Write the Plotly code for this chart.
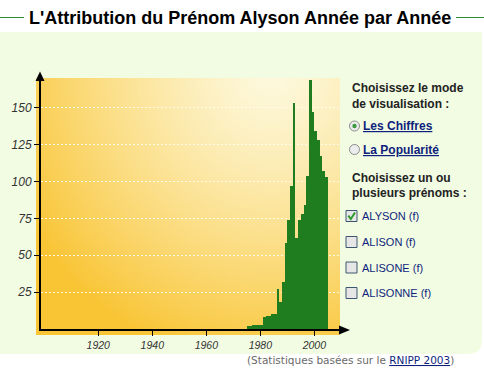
import base64
import struct
import zlib
import numpy as np
import plotly.graph_objects as go

# ---------------- data ----------------
years = list(range(1975, 2005))
counts = [2, 2, 3, 3, 3, 3, 8, 9, 9, 10, 10, 27, 18, 32, 58, 74, 97, 153, 62, 74,
          78, 84, 104, 169, 147, 134, 128, 117, 107, 103]
y_ticks = [25, 50, 75, 100, 125, 150]
x_ticks = [1920, 1940, 1960, 1980, 2000]
title_text = "L'Attribution du Prénom Alyson Année par Année"
mode_header = ["Choisissez le mode", "de visualisation :"]
modes = ["Les Chiffres", "La Popularité"]
names_header = ["Choisissez un ou", "plusieurs prénoms :"]
names = ["ALYSON (f)", "ALISON (f)", "ALISONE (f)", "ALISONNE (f)"]
footnote_pre = "(Statistiques basées sur le "
footnote_link = "RNIPP 2003"

# ---------------- layout geometry (pixels) ----------------
W, H = 484, 377
L, R, T, B = 41, 340, 78, 329


def px(x):
    return (x - L) / (R - L)


def py(y):
    return (B - y) / (B - T)


# ---------------- gold gradient background (png data uri) ----------------
def png_data_uri(arr):
    h, w, _ = arr.shape
    raw = b"".join(b"\x00" + arr[i].astype(np.uint8).tobytes() for i in range(h))

    def chunk(t, d):
        c = struct.pack(">I", len(d)) + t + d
        return c + struct.pack(">I", zlib.crc32(t + d) & 0xFFFFFFFF)

    png = (b"\x89PNG\r\n\x1a\n"
           + chunk(b"IHDR", struct.pack(">IIBBBBB", w, h, 8, 2, 0, 0, 0))
           + chunk(b"IDAT", zlib.compress(raw))
           + chunk(b"IEND", b""))
    return "data:image/png;base64," + base64.b64encode(png).decode()


gw, gh = 120, 100
uu, vv = np.meshgrid(np.linspace(0, 1, gw), np.linspace(0, 1, gh))
dist = np.sqrt(((uu - 0.78) / 0.95) ** 2 + ((vv + 0.05) / 1.2) ** 2)
t = np.clip(dist, 0, 1) ** 1.25
gold = np.array([249, 197, 52], dtype=float)
pale = np.array([254, 250, 224], dtype=float)
img = pale[None, None, :] * (1 - t[..., None]) + gold[None, None, :] * t[..., None]
bg_uri = png_data_uri(np.clip(img, 0, 255))

BAR = "#1F7D1F"
NAVY = "#0E1F7C"
TXT = "#222222"
FONT = "Liberation Sans"

fig = go.Figure()
fig.add_trace(go.Bar(x=years, y=counts, width=1, offset=0,
                     marker=dict(color=BAR, line=dict(width=0)),
                     hoverinfo="x+y"))

shapes = []
# white areas outside the pale-green panel
Bp, Rp, rad = 354, 482, 14
shapes.append(dict(type="rect", xref="paper", yref="paper", x0=px(0), x1=px(W), y0=py(0), y1=py(32),
                   fillcolor="white", line=dict(width=0), layer="below"))
shapes.append(dict(type="rect", xref="paper", yref="paper", x0=px(0), x1=px(W), y0=py(Bp), y1=py(H),
                   fillcolor="white", line=dict(width=0), layer="below"))
shapes.append(dict(type="rect", xref="paper", yref="paper", x0=px(Rp), x1=px(W), y0=py(32), y1=py(Bp),
                   fillcolor="white", line=dict(width=0), layer="below"))
corner = (f"M {px(Rp - rad)},{py(Bp)} Q {px(Rp)},{py(Bp)} {px(Rp)},{py(Bp - rad)} "
          f"L {px(Rp)},{py(Bp)} Z")
shapes.append(dict(type="path", xref="paper", yref="paper", path=corner,
                   fillcolor="white", line=dict(width=0), layer="below"))

# title side lines
for x0, x1 in [(0, 24), (456, W)]:
    shapes.append(dict(type="line", xref="paper", yref="paper", x0=px(x0), x1=px(x1),
                       y0=py(17.5), y1=py(17.5), line=dict(color="#2E8B2E", width=1)))

# axis arrows
shapes.append(dict(type="path", xref="paper", yref="paper",
                   path=f"M {px(35.5)},{py(81)} L {px(40)},{py(71.5)} L {px(44.5)},{py(81)} Z",
                   fillcolor="black", line=dict(width=0)))
shapes.append(dict(type="path", xref="paper", yref="paper",
                   path=f"M {px(339)},{py(325.5)} L {px(350)},{py(330)} L {px(339)},{py(334.5)} Z",
                   fillcolor="black", line=dict(width=0)))

annotations = []
annotations.append(dict(xref="paper", yref="paper", x=px(240), y=py(17.5), text=f"<b>{title_text}</b>",
                        showarrow=False, xanchor="center", yanchor="middle",
                        font=dict(family=FONT, size=18, color="black")))

for txt, yy in zip(mode_header, [88.5, 103.5]):
    annotations.append(dict(xref="paper", yref="paper", x=px(350), y=py(yy), text=f"<b>{txt}</b>",
                            showarrow=False, xanchor="left", yanchor="middle",
                            font=dict(family=FONT, size=12, color=TXT)))
for txt, yy in zip(names_header, [177.5, 192.5]):
    annotations.append(dict(xref="paper", yref="paper", x=px(350), y=py(yy), text=f"<b>{txt}</b>",
                            showarrow=False, xanchor="left", yanchor="middle",
                            font=dict(family=FONT, size=12, color=TXT)))

# radio buttons
for i, (txt, yy) in enumerate(zip(modes, [126, 149.5])):
    shapes.append(dict(type="circle", xref="paper", yref="paper",
                       x0=px(349.5), x1=px(359.5), y0=py(yy - 5), y1=py(yy + 5),
                       fillcolor="#ECECEC", line=dict(color="#8C8C8C", width=1)))
    if i == 0:
        shapes.append(dict(type="circle", xref="paper", yref="paper",
                           x0=px(352.3), x1=px(356.7), y0=py(yy - 2.2), y1=py(yy + 2.2),
                           fillcolor="#3F9A3F", line=dict(width=0)))
    annotations.append(dict(xref="paper", yref="paper", x=px(361), y=py(yy), text=f"<b><u>{txt}</u></b>",
                            showarrow=False, xanchor="left", yanchor="middle",
                            font=dict(family=FONT, size=12, color=NAVY)))

# check boxes
for i, (txt, yy) in enumerate(zip(names, [216, 242, 267.5, 293])):
    shapes.append(dict(type="rect", xref="paper", yref="paper",
                       x0=px(346), x1=px(357), y0=py(yy - 5.5), y1=py(yy + 5.5),
                       fillcolor="#E6E6E6", line=dict(color="#3C5670", width=1)))
    if i == 0:
        shapes.append(dict(type="path", xref="paper", yref="paper",
                           path=(f"M {px(348.3)},{py(yy - 0.3)} L {px(350.8)},{py(yy + 3)} "
                                 f"L {px(355)},{py(yy - 3.5)}"),
                           line=dict(color="#2E9A2E", width=2)))
    annotations.append(dict(xref="paper", yref="paper", x=px(360), y=py(yy), text=txt,
                            showarrow=False, xanchor="left", yanchor="middle",
                            font=dict(family=FONT, size=11, color=NAVY)))

annotations.append(dict(xref="paper", yref="paper", x=px(245), y=py(360),
                        text=f'{footnote_pre}<span style="color:{NAVY}"><u>{footnote_link}</u></span>)',
                        showarrow=False, xanchor="left", yanchor="middle",
                        font=dict(family="DejaVu Sans", size=10.5, color="#6A6A6A")))

fig.update_layout(
    width=W, height=H,
    margin=dict(l=L, r=W - R, t=T, b=H - B, pad=0),
    paper_bgcolor="#F2FCE3",
    plot_bgcolor="rgba(0,0,0,0)",
    showlegend=False,
    bargap=0,
    shapes=shapes,
    annotations=annotations,
    images=[dict(source=bg_uri, xref="paper", yref="paper", x=px(36), y=py(T),
                 sizex=px(R) - px(36), sizey=py(T) - py(335), xanchor="left", yanchor="top",
                 sizing="stretch", layer="below")],
    xaxis=dict(range=[1898.8, 2009.5], tickvals=x_ticks, ticktext=[str(v) for v in x_ticks],
               ticks="outside", ticklen=5, tickcolor="black", tickwidth=1,
               showline=True, linecolor="black", linewidth=2, showgrid=False, zeroline=False,
               tickfont=dict(family=FONT, size=10.5, color="#333333", style="italic")),
    yaxis=dict(range=[0, 170.2], tickvals=y_ticks, ticktext=[str(v) for v in y_ticks],
               ticks="outside", ticklen=5, tickcolor="black", tickwidth=1,
               showline=True, linecolor="black", linewidth=2, zeroline=False,
               showgrid=True, gridcolor="rgba(255,252,235,0.95)", gridwidth=1, griddash="2px,2px",
               tickfont=dict(family=FONT, size=12, color="#333333", style="italic")),
)

fig.write_html("out.html", config={"displayModeBar": False},
               post_script="document.body.style.margin='0';")
